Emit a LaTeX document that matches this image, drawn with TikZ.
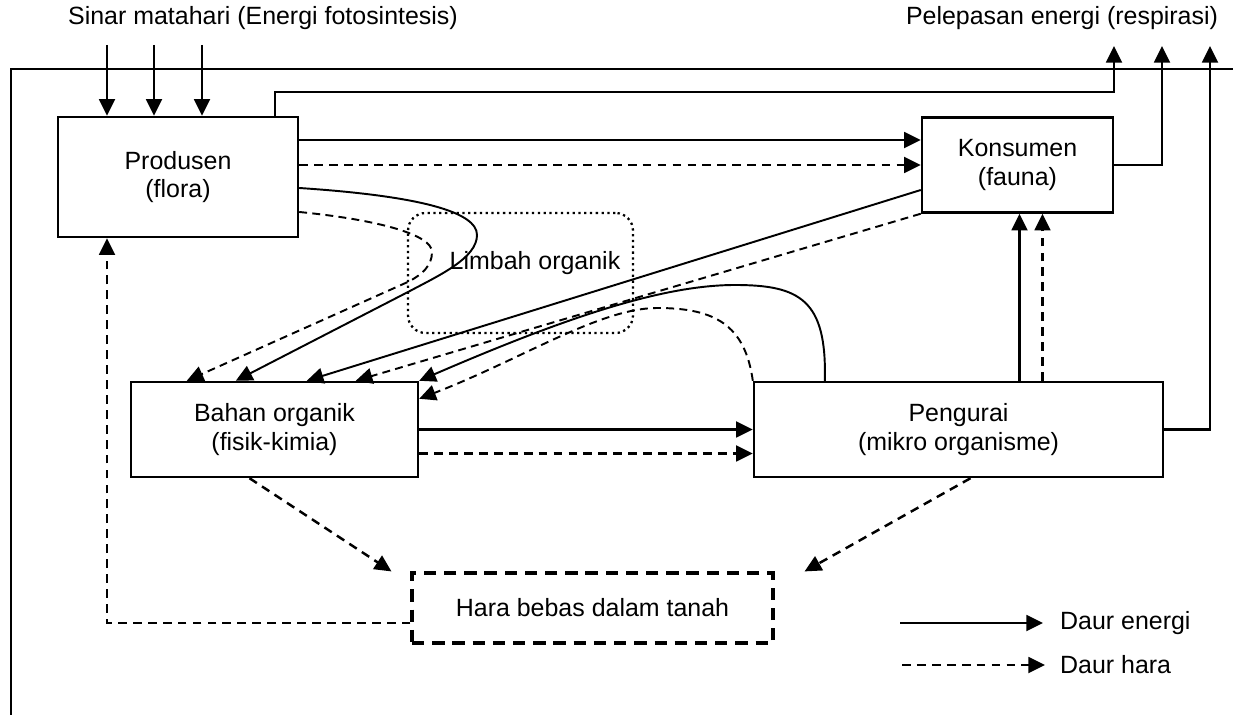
\documentclass[tikz,border=0pt]{standalone}
\usepackage{fontspec}
\setmainfont{Liberation Sans}
\usetikzlibrary{arrows.meta,shapes}
\tikzset{
  every node/.style={font=\fontsize{14.2}{16}\selectfont},
  box/.style={draw, line width=1.4pt, align=center, inner sep=0pt},
  energy/.style={->, line width=1.4pt},
  nutrient/.style={->, line width=1.4pt, dash pattern=on 5pt off 3.5pt},
  thin energy/.style={->, line width=1.1pt},
  thin nutrient/.style={->, line width=1.1pt, dash pattern=on 4.5pt off 3pt},
}

\begin{document}
\begin{tikzpicture}[x=0.02cm, y=-0.02cm, >={Triangle[length=9.5pt,width=9pt]}]
  \useasboundingbox (0,0) rectangle (1233,715);
  % frame
  \draw[line width=1.4pt] (1233,69) -| (11,715);
  \node (sun) at (263,18) {Sinar matahari (Energi fotosintesis)};
  \node (resp) at (1062,18) {Pelepasan energi (respirasi)};
  % compartments
  \node[draw, line width=1.3pt, dash pattern=on 1.3pt off 2pt, rounded corners=10pt,
        minimum width=4.5cm, minimum height=2.4cm] (limbah) at (520.5,273) {};
  \node (limbahtxt) at (535,263) {Limbah organik};
  \node[box, minimum width=4.8cm, minimum height=2.4cm] (prod) at (178,177) {Produsen\\(flora)};
  \node[box, minimum width=3.82cm, minimum height=1.9cm] (kons) at (1017.5,165) {Konsumen\\(fauna)};
  \node[box, minimum width=5.74cm, minimum height=1.9cm] (bahan) at (274.5,429.5) {Bahan organik\\(fisik-kimia)};
  \node[box, minimum width=8.18cm, minimum height=1.9cm] (peng) at (958.5,429.5) {Pengurai\\(mikro organisme)};
  \node[box, line width=1.8pt, dash pattern=on 7pt off 4.5pt,
        minimum width=7.22cm, minimum height=1.4cm] (hara) at (592.5,608) {Hara bebas dalam tanah};
  % sunlight
  \foreach \x [count=\i] in {107,154,202} {
    \coordinate (sun\i) at (\x,45);
    \draw[energy] (sun\i) -- (sun\i |- prod.north);
  }
  % respiration
  \coordinate (rel1) at (1114,46);
  \coordinate (rel2) at (1162,46);
  \coordinate (rel3) at (1210,46);
  \draw[energy] ([xshift=-0.48cm]prod.north east) -- ++(0,-24) -| (rel1);
  \draw[energy] (kons.east) -| (rel2);
  \draw[energy] (peng.east) -| (rel3);
  % straight flows
  \draw[energy] ([yshift=0.74cm]prod.east) coordinate (pk1) -- (pk1 -| kons.west);
  \draw[nutrient] ([yshift=0.24cm]prod.east) coordinate (pk2) -- (pk2 -| kons.west);
  \draw[energy] (bahan.east) -- (bahan.east -| peng.west);
  \draw[nutrient] ([yshift=-0.48cm]bahan.east) coordinate (bp2) -- (bp2 -| peng.west);
  \draw[energy] ([xshift=1.22cm]peng.north) coordinate (up1) -- (up1 |- kons.south);
  \draw[nutrient] ([xshift=1.68cm]peng.north) coordinate (up2) -- (up2 |- kons.south);
  \draw[nutrient] ([xshift=-0.5cm]bahan.south) -- ([xshift=-0.38cm]hara.north west);
  \draw[nutrient] ([xshift=0.24cm]peng.south) -- ([xshift=0.6cm]hara.north east);
  \draw[nutrient] ([yshift=-0.3cm]hara.west) -| ([xshift=-1.42cm]prod.south);
  % litter
  \draw[thin energy] ([yshift=-0.22cm]prod.east) .. controls (420,196) and (477,212) .. (477,235)
    .. controls (477,258) and (440,275) .. (408,292) -- ([xshift=2.12cm]bahan.north west);
  \draw[thin nutrient] ([yshift=-0.7cm]prod.east) .. controls (380,220) and (432,235) .. (432,252)
    .. controls (432,266) and (422,274) .. (410,281) -- ([xshift=1.14cm]bahan.north west);
  \draw[thin energy] ([yshift=-0.5cm]kons.west) -- ([xshift=3.54cm]bahan.north west);
  \draw[thin nutrient] (kons.south west) -- ([xshift=4.52cm]bahan.north west);
  \draw[thin energy] ([xshift=1.44cm]peng.north west) .. controls (827,300) and (800,285) .. (735,285)
    .. controls (660,285) and (560,320) .. (bahan.north east);
  \draw[thin nutrient] (peng.north west) .. controls (745,325) and (715,308) .. (657,308)
    .. controls (600,308) and (520,360) .. ([yshift=-0.36cm]bahan.north east);
  % legend
  \coordinate (leg1) at (900,623);
  \coordinate (leg2) at (902,665);
  \node[anchor=west] (legE) at (1054,623) {Daur energi};
  \node[anchor=west] (legH) at (1054,665) {Daur hara};
  \draw[energy] (leg1) -- ([xshift=-0.22cm]legE.west);
  \draw[nutrient] (leg2) -- ([xshift=-0.18cm]legH.west);
\end{tikzpicture}
\end{document}
